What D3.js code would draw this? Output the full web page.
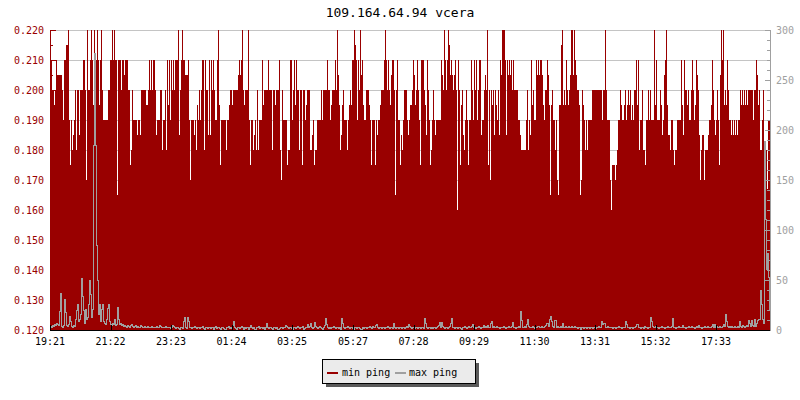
<!DOCTYPE html>
<html><head><meta charset="utf-8">
<script src="https://cdn.jsdelivr.net/npm/d3@7"></script>
<style>html,body{margin:0;padding:0;background:#fff;}svg{display:block;}</style>
</head><body>
<svg id="c" width="800" height="400"></svg>
<script>
const titleText = "109.164.64.94 vcera";
const seriesNames = ["min ping", "max ping"];
const timeLabels = ["19:21","21:22","23:23","01:24","03:25","05:27","07:28","09:29","11:30","13:31","15:32","17:33"];
const timeOffsets = [0,121,242,363,484,606,727,848,969,1090,1211,1332]; // minutes from start
const leftTicks = [0.120,0.130,0.140,0.150,0.160,0.170,0.180,0.190,0.200,0.210,0.220];
const rightTicks = [0,50,100,150,200,250,300];
const stepMinutes = 2;

const minPing = [
.21,.21,.2,.2,.195,.2,.21,.205,.205,.205,.205,.205,.2,.19,.21,.21,.215,.215,.22,.19,
.175,.19,.18,.185,.19,.2,.18,.2,.2,.185,.2,.2,.2,.21,.21,.2,.17,.22,.2,.2,
.21,.22,.21,.195,.22,.21,.21,.22,.21,.195,.21,.22,.2,.19,.19,.19,.19,.19,.2,.2,
.21,.21,.22,.21,.22,.21,.21,.165,.21,.21,.21,.2,.21,.21,.205,.21,.21,.21,.2,.2,
.175,.18,.2,.19,.19,.19,.19,.185,.19,.19,.185,.2,.2,.2,.2,.2,.195,.195,.2,.21,
.2,.21,.2,.21,.21,.2,.185,.19,.19,.19,.2,.2,.18,.19,.19,.2,.18,.21,.195,.21,
.19,.21,.2,.21,.2,.21,.21,.21,.22,.185,.2,.21,.22,.21,.21,.205,.205,.205,.21,.19,
.17,.19,.19,.19,.185,.19,.18,.195,.19,.2,.19,.2,.21,.21,.18,.21,.2,.2,.185,.21,
.185,.21,.2,.21,.2,.19,.19,.21,.22,.195,.175,.19,.19,.19,.19,.19,.18,.19,.19,.195,
.2,.2,.195,.2,.2,.2,.2,.2,.205,.21,.205,.21,.22,.2,.195,.2,.2,.2,.22,.19,
.175,.19,.19,.18,.185,.19,.18,.2,.18,.19,.19,.19,.21,.195,.2,.2,.2,.2,.21,.2,
.2,.2,.18,.2,.2,.195,.2,.2,.2,.21,.18,.17,.2,.19,.19,.19,.19,.175,.18,.18,
.21,.21,.19,.2,.21,.195,.21,.2,.2,.18,.2,.2,.175,.2,.2,.19,.195,.2,.2,.2,
.18,.18,.185,.19,.175,.18,.18,.19,.19,.19,.19,.2,.19,.2,.2,.2,.2,.21,.2,.2,
.19,.195,.2,.2,.2,.21,.2,.22,.205,.195,.18,.185,.195,.2,.19,.19,.19,.18,.19,.195,
.2,.195,.21,.21,.22,.215,.21,.19,.21,.2,.22,.205,.21,.195,.19,.19,.2,.2,.2,.195,
.19,.175,.19,.19,.19,.175,.19,.185,.19,.19,.195,.2,.2,.2,.21,.22,.21,.2,.21,.2,
.195,.205,.21,.21,.2,.165,.2,.21,.19,.19,.175,.185,.18,.19,.2,.2,.2,.19,.185,.19,
.195,.195,.2,.21,.205,.195,.2,.21,.2,.19,.175,.21,.21,.21,.2,.195,.185,.21,.2,.19,
.175,.18,.19,.2,.19,.185,.19,.19,.19,.19,.19,.21,.205,.2,.22,.21,.2,.21,.22,.215,
.205,.21,.205,.2,.205,.21,.2,.16,.21,.2,.175,.195,.2,.185,.18,.19,.2,.19,.175,.19,
.19,.21,.2,.19,.21,.2,.21,.19,.2,.21,.21,.185,.19,.19,.2,.205,.2,.22,.175,.2,
.17,.2,.195,.2,.185,.2,.195,.19,.2,.185,.21,.205,.22,.22,.22,.21,.185,.21,.205,.21,
.205,.21,.2,.21,.2,.2,.2,.2,.19,.19,.185,.18,.18,.18,.18,.18,.19,.2,.18,.19,
.185,.21,.195,.2,.19,.19,.21,.205,.21,.205,.21,.21,.205,.195,.19,.2,.2,.21,.205,.195,
.165,.195,.2,.19,.19,.18,.19,.17,.165,.195,.195,.215,.22,.195,.2,.195,.21,.2,.195,.2,
.205,.22,.22,.205,.22,.21,.205,.2,.2,.195,.165,.17,.2,.195,.19,.18,.19,.18,.19,.19,
.19,.19,.2,.2,.2,.2,.2,.2,.2,.2,.2,.2,.19,.2,.2,.22,.2,.19,.19,.19,
.17,.16,.175,.175,.175,.17,.175,.18,.19,.19,.2,.195,.19,.19,.195,.2,.19,.195,.2,.195,
.2,.19,.195,.19,.2,.2,.21,.195,.21,.18,.19,.19,.2,.18,.18,.175,.19,.19,.2,.19,
.2,.19,.19,.19,.22,.195,.21,.19,.19,.19,.2,.195,.185,.19,.205,.21,.22,.195,.185,.185,
.18,.19,.19,.18,.175,.18,.18,.19,.19,.19,.19,.21,.195,.185,.21,.2,.2,.195,.2,.19,
.19,.2,.21,.2,.19,.195,.21,.205,.2,.185,.17,.18,.185,.185,.17,.18,.18,.18,.185,.19,
.19,.195,.21,.2,.19,.185,.19,.2,.19,.175,.205,.22,.21,.22,.195,.2,.195,.21,.2,.19,
.19,.185,.19,.185,.19,.185,.19,.185,.19,.19,.2,.195,.2,.195,.2,.195,.2,.195,.2,.2,
.2,.2,.2,.19,.2,.2,.21,.205,.195,.2,.18,.18,.19,.2,.18,.18,.18,.167,.19,.19
];

const maxPing = [
3,2,4,3,5,4,6,5,4,18,36,3,2,4,30,17,4,3,5,13,
8,3,2,4,3,10,19,25,8,10,15,51,33,19,6,20,10,12,25,49,
35,12,20,184,276,184,84,49,15,25,8,20,25,8,6,5,10,21,25,8,
5,4,6,5,10,4,5,22,10,5,6,4,5,3,4,3,2,4,3,2,
4,5,3,2,3,4,2,3,2,2,4,3,2,2,3,2,2,3,2,2,
2,3,2,2,2,2,3,2,2,4,3,2,2,2,2,3,2,2,2,2,
1,2,4,3,2,1,2,2,1,0,2,2,1,8,12,2,1,12,8,2,
2,1,2,2,3,2,1,2,2,1,2,2,3,1,0,2,2,1,2,2,
1,2,2,0,2,3,1,2,2,1,0,2,2,1,0,0,2,2,3,1,
2,1,4,8,2,1,0,2,2,1,2,3,2,0,2,1,2,2,0,2,
4,2,1,2,0,0,2,2,3,1,2,2,1,2,0,2,6,2,1,2,
2,1,0,2,2,1,2,0,0,1,2,2,1,2,2,4,3,2,1,2,
2,1,0,2,2,1,2,3,2,1,2,2,3,0,1,2,2,5,2,3,
6,2,1,2,7,3,2,1,2,3,2,1,0,2,4,11,5,2,1,2,
1,2,2,3,2,1,2,2,1,2,0,11,6,2,1,2,2,3,2,1,
2,2,1,0,2,2,1,2,2,1,0,0,2,1,2,2,1,2,2,3,
2,1,3,2,2,4,5,2,1,2,2,1,2,2,1,2,2,3,2,1,
2,2,1,6,2,1,2,2,1,2,2,1,2,2,1,2,3,2,5,3,
2,1,2,2,1,2,2,1,2,2,1,2,2,1,11,6,2,1,2,2,
1,2,1,2,2,1,2,3,4,7,2,7,3,2,1,2,2,1,2,3,
6,11,2,2,1,2,2,1,2,2,1,0,2,2,3,2,1,2,3,2,
2,3,5,2,2,1,2,2,3,2,1,2,2,4,2,3,2,4,2,2,
6,8,2,3,2,2,3,2,2,1,2,2,2,3,2,1,2,2,3,2,
2,3,7,2,2,1,2,2,3,2,18,9,2,2,3,2,5,10,3,2,
2,2,3,2,1,2,2,3,3,2,2,3,2,2,3,4,6,6,3,10,
13,8,3,2,9,9,2,3,2,2,3,2,6,2,2,3,2,2,3,2,
2,3,2,2,3,2,2,1,2,2,0,2,2,1,2,2,1,2,2,1,
2,2,1,2,2,1,2,2,3,2,2,8,5,6,6,2,2,3,2,2,
2,2,1,2,2,1,2,2,3,2,2,1,2,2,2,8,5,2,2,1,
2,2,1,2,2,3,5,5,2,2,1,2,2,1,3,2,2,1,2,2,
12,8,3,2,2,3,2,2,1,2,2,3,2,2,1,2,2,3,2,2,
2,3,11,2,2,1,2,2,3,2,2,2,4,2,2,1,2,2,3,2,
2,3,2,2,1,2,3,2,4,2,2,1,2,2,3,2,2,3,2,2,
2,3,5,2,5,2,3,2,2,3,2,2,3,5,3,15,8,3,2,3,
2,3,2,2,3,2,2,3,2,8,3,2,4,3,2,3,4,3,9,6,
3,9,4,3,10,3,6,9,10,10,39,25,10,6,188,110,60,76,52,20
];

const RED = "#990000", GRAY = "#a0a0a0", GRID = "#c4c4c4";
const FONT = "'DejaVu Sans Mono', 'Liberation Mono', monospace";
const L = 50, R = 770, T = 30, B = 330;

const svg = d3.select("#c");
svg.append("rect").attr("width",800).attr("height",400).attr("fill","#fff");

const x = d3.scaleLinear().domain([0, 1440]).range([L, R]);
const yL = d3.scaleLinear().domain([0.12, 0.22]).range([B, T]);
const yR = d3.scaleLinear().domain([0, 300]).range([B, T]);

// grid
svg.append("g").selectAll("line").data(leftTicks.slice(1)).join("line")
  .attr("x1", L).attr("x2", R)
  .attr("y1", d => Math.round(yL(d)) + 0.5).attr("y2", d => Math.round(yL(d)) + 0.5)
  .attr("stroke", GRID).attr("stroke-width", 1).attr("shape-rendering","crispEdges");

// min ping area
const minPts = minPing.map((v, i) => ({t: i * stepMinutes, v}));
minPts.push({t: minPing.length * stepMinutes, v: minPing[minPing.length - 1]});
const area = d3.area().curve(d3.curveStepAfter)
  .x(d => x(d.t)).y0(B).y1(d => yL(Math.min(d.v, 0.22)));
svg.append("path").datum(minPts).attr("d", area).attr("fill", RED)
  .attr("shape-rendering","crispEdges");

// max ping: 1px stepped line, drawn column by column
const maxCols = maxPing.map((v, i) => {
  const prev = i > 0 ? maxPing[i - 1] : v;
  const top = Math.round(yR(Math.min(Math.max(v, prev), 300))) - 1;
  const bot = Math.round(yR(Math.min(Math.min(v, prev), 300)));
  return {t: i * stepMinutes, top, bot};
});
svg.append("g").selectAll("rect").data(maxCols).join("rect")
  .attr("x", d => Math.round(x(d.t))).attr("width", Math.max(1, Math.round(x(stepMinutes) - x(0))))
  .attr("y", d => d.top).attr("height", d => Math.max(1, d.bot - d.top))
  .attr("fill", GRAY).attr("shape-rendering","crispEdges");

// left axis
const gl = svg.append("g");
gl.append("line").attr("x1", L + 0.5).attr("x2", L + 0.5).attr("y1", T).attr("y2", B)
  .attr("stroke", RED).attr("shape-rendering","crispEdges");
const leftMinor = leftTicks.slice(1).map(v => v - 0.005);
gl.selectAll("line.maj").data(leftTicks).join("line").attr("class","maj")
  .attr("x1", L).attr("x2", L + 6)
  .attr("y1", d => Math.round(yL(d)) + 0.5).attr("y2", d => Math.round(yL(d)) + 0.5)
  .attr("stroke", RED).attr("shape-rendering","crispEdges");
gl.selectAll("line.min").data(leftMinor).join("line").attr("class","min")
  .attr("x1", L).attr("x2", L + 3)
  .attr("y1", d => Math.round(yL(d)) + 0.5).attr("y2", d => Math.round(yL(d)) + 0.5)
  .attr("stroke", RED).attr("shape-rendering","crispEdges");
gl.selectAll("text").data(leftTicks).join("text")
  .attr("x", 44).attr("y", d => yL(d) + 4)
  .attr("text-anchor","end").attr("fill", RED)
  .style("font-family", FONT).style("font-size","10px")
  .text(d => d3.format(".3f")(d));

// right axis
const gr = svg.append("g");
gr.append("line").attr("x1", R + 0.5).attr("x2", R + 0.5).attr("y1", T).attr("y2", B + 1)
  .attr("stroke", GRAY).attr("shape-rendering","crispEdges");
const rightMinor = d3.range(0, 301, 10).filter(v => !rightTicks.includes(v));
gr.selectAll("line.maj").data(rightTicks).join("line").attr("class","maj")
  .attr("x1", R - 5).attr("x2", R + 1)
  .attr("y1", d => Math.round(yR(d)) + 0.5).attr("y2", d => Math.round(yR(d)) + 0.5)
  .attr("stroke", GRAY).attr("shape-rendering","crispEdges");
gr.selectAll("line.min").data(rightMinor).join("line").attr("class","min")
  .attr("x1", R - 3).attr("x2", R + 1)
  .attr("y1", d => Math.round(yR(d)) + 0.5).attr("y2", d => Math.round(yR(d)) + 0.5)
  .attr("stroke", GRAY).attr("shape-rendering","crispEdges");
gr.selectAll("text").data(rightTicks).join("text")
  .attr("x", 776).attr("y", d => yR(d) + 4)
  .attr("text-anchor","start").attr("fill", GRAY)
  .style("font-family", FONT).style("font-size","10px")
  .text(d => d);

// bottom axis
const gb = svg.append("g");
gb.append("line").attr("x1", L).attr("x2", R).attr("y1", B + 0.5).attr("y2", B + 0.5)
  .attr("stroke", "#000").attr("shape-rendering","crispEdges");
gb.selectAll("line.tk").data(timeOffsets).join("line").attr("class","tk")
  .attr("x1", d => Math.round(x(d)) + 0.5).attr("x2", d => Math.round(x(d)) + 0.5)
  .attr("y1", B - 5).attr("y2", B)
  .attr("stroke", "#000").attr("shape-rendering","crispEdges");
gb.selectAll("text").data(timeOffsets).join("text")
  .attr("x", d => x(d)).attr("y", 345)
  .attr("text-anchor","middle").attr("fill", "#000")
  .style("font-family", FONT).style("font-size","10px")
  .text((d, i) => timeLabels[i]);

// title
svg.append("text").attr("x", 400).attr("y", 17).attr("text-anchor","middle")
  .attr("fill","#000").style("font-family", FONT).style("font-size","13px")
  .text(titleText);

// legend
const lg = svg.append("g");
lg.append("rect").attr("x", 325.5).attr("y", 362.5).attr("width", 153).attr("height", 24)
  .attr("fill", "#5a5a5a").attr("shape-rendering","crispEdges");
lg.append("rect").attr("x", 322.5).attr("y", 359.5).attr("width", 153).attr("height", 24)
  .attr("fill", "#ebebeb").attr("stroke", "#000").attr("shape-rendering","crispEdges");
const swatchX = [327, 395], textX = [342, 409], cols = [RED, GRAY];
seriesNames.forEach((n, i) => {
  lg.append("line").attr("x1", swatchX[i]).attr("x2", swatchX[i] + 11)
    .attr("y1", 372.5).attr("y2", 372.5).attr("stroke", cols[i]).attr("stroke-width", 2)
    .attr("shape-rendering","crispEdges");
  lg.append("text").attr("x", textX[i]).attr("y", 376).attr("fill", "#000")
    .style("font-family", FONT).style("font-size","10px").text(n);
});
</script>
</body></html>
